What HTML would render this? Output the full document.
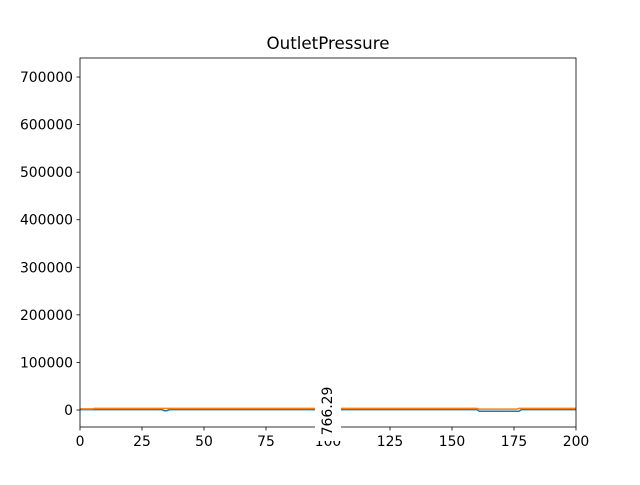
<!DOCTYPE html>
<html><head><meta charset="utf-8"><style>
body{margin:0;background:#fff;}
svg text{font-family:"DejaVu Sans","Liberation Sans",sans-serif;}
</style></head><body>
<svg id="chart" width="640" height="480" viewBox="0 0 640 480" xmlns="http://www.w3.org/2000/svg">
<rect width="640" height="480" fill="#fff"/>
<text x="328" y="49" font-size="16.7" text-anchor="middle">OutletPressure</text>
<g id="marks"></g>
<g id="axes"></g>
</svg>
<script>
const xTicks=[0,25,50,75,100,125,150,175,200];
const yTicks=[0,100000,200000,300000,400000,500000,600000,700000];
const blueX=[0,33,34,35,36,160,161,177,178,200];
const blueY=[766,766,-1500,-1500,766,766,-2500,-2500,766,766];
const orangeX=[0,5,6,160,161,176,177,200];
const orangeY=[2500,2500,3500,3500,2000,2000,3500,3500];
const annotation="766.29";
const L=80,R=576,T=58,B=427,xmin=0,xmax=200,ymin=-35700,ymax=740000;
const sx=v=>L+(v-xmin)/(xmax-xmin)*(R-L);
const sy=v=>B-(v-ymin)/(ymax-ymin)*(B-T);
const NS="http://www.w3.org/2000/svg";
function mk(t,a,p){const e=document.createElementNS(NS,t);for(const k in a)e.setAttribute(k,a[k]);p.appendChild(e);return e;}
const marks=document.getElementById('marks'),axes=document.getElementById('axes');
const pb=mk('polyline',{points:blueX.map((x,i)=>sx(x)+','+sy(blueY[i])).join(' '),fill:'none',stroke:'#1f77b4','stroke-width':1.5},marks);


const po=mk('polyline',{points:orangeX.map((x,i)=>sx(x)+','+sy(orangeY[i])).join(' '),fill:'none',stroke:'#ff7f0e','stroke-width':1.5},marks);


const fr=mk('rect',{x:L,y:T,width:R-L,height:B-T,fill:'none',stroke:'#000','stroke-width':0.8},axes);


xTicks.forEach(v=>{
  const x=sx(v);
  const tk=mk('line',{x1:x,x2:x,y1:B,y2:B+3.5,stroke:'#000','stroke-width':0.8},axes);
  
  
  const t=mk('text',{x:x,y:B+19,'font-size':13.9,'text-anchor':'middle'},axes);t.textContent=v;
  
  
});
yTicks.forEach(v=>{
  const y=sy(v);
  const tk=mk('line',{x1:L-3.5,x2:L,y1:y,y2:y,stroke:'#000','stroke-width':0.8},axes);
  
  
  const t=mk('text',{x:L-7,y:y+5,'font-size':13.9,'text-anchor':'end'},axes);t.textContent=v;
  
  
});
const box=mk('rect',{x:315,y:381,width:26,height:60,fill:'#fff'},axes);


const at=mk('text',{x:0,y:0,'font-size':13.9,'text-anchor':'middle',transform:'translate(332,411) rotate(-90)'},axes);
at.textContent=annotation;


</script>
</body></html>
